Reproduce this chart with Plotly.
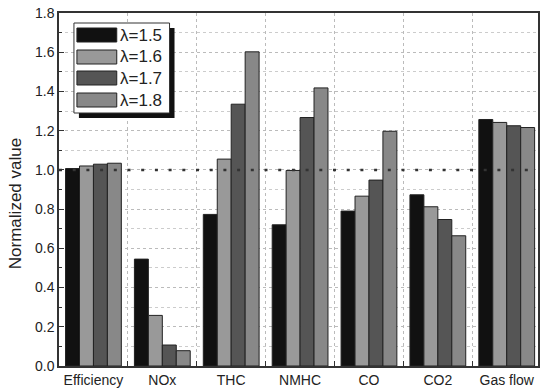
import plotly.graph_objects as go

categories = ["Efficiency", "NOx", "THC", "NMHC", "CO", "CO2", "Gas flow"]
series_names = ["λ=1.5", "λ=1.6", "λ=1.7", "λ=1.8"]
lam15 = [1.007, 0.545, 0.773, 0.720, 0.790, 0.873, 1.257]
lam16 = [1.020, 0.258, 1.055, 0.997, 0.866, 0.812, 1.242]
lam17 = [1.029, 0.107, 1.335, 1.267, 0.948, 0.747, 1.225]
lam18 = [1.034, 0.078, 1.602, 1.418, 1.197, 0.664, 1.216]
series_values = [lam15, lam16, lam17, lam18]
colors = ["#111111", "#999999", "#555555", "#888888"]
y_ticks = [0.0, 0.2, 0.4, 0.6, 0.8, 1.0, 1.2, 1.4, 1.6, 1.8]

W, H = 540, 392
ML, MR, MT, MB = 59, 0, 13, 26
PW, PH = W - ML - MR, H - MT - MB

def px(x):
    return (x - ML) / PW

def py(y):
    return 1 - (y - MT) / PH

fig = go.Figure()
for name, vals, col in zip(series_names, series_values, colors):
    fig.add_trace(go.Bar(x=categories, y=vals, name=name, marker_color=col,
                         marker_line=dict(color="#222222", width=1), showlegend=False))

font = "Liberation Sans, Arial, sans-serif"
fig.update_layout(
    width=W, height=H, margin=dict(l=ML, r=MR, t=MT, b=MB),
    paper_bgcolor="white", plot_bgcolor="white",
    barmode="group", bargap=0.19, bargroupgap=0,
    font=dict(family=font, size=14, color="#222222"),
    xaxis=dict(range=[-0.5, 6.454], tickson="boundaries", ticks="inside", ticklen=5,
               tickcolor="#333", showgrid=True, gridcolor="#bbbbbb", griddash="dot",
               gridwidth=1, showline=True, linecolor="#333", linewidth=1.5, mirror=True,
               tickfont=dict(size=14)),
    yaxis=dict(range=[0, 1.8], tickvals=y_ticks, ticktext=[f"{v:.1f}" for v in y_ticks],
               ticks="inside", ticklen=5, tickcolor="#333", showgrid=True,
               gridcolor="#bbbbbb", griddash="dot", gridwidth=1,
               showline=True, linecolor="#333", linewidth=1.5, mirror=True,
               zeroline=False, tickfont=dict(size=14),
               minor=dict(dtick=0.1, ticks="inside", ticklen=3, tickcolor="#333",
                          showgrid=True, gridcolor="#cccccc", griddash="dot")),
)

# y-axis title
fig.add_annotation(xref="paper", yref="paper", x=px(15), y=py(204),
                   text="Normalized value", textangle=-90, showarrow=False,
                   xanchor="center", yanchor="middle",
                   font=dict(size=17, color="#222222"))

# reference line at 1.0
fig.add_shape(type="line", xref="paper", yref="y", x0=0, x1=1, y0=1.0, y1=1.0,
              line=dict(color="#333333", width=2.5, dash="3px,10.7px"), layer="above")

# legend (manual) with shadow
fig.add_shape(type="rect", xref="paper", yref="paper", x0=px(79), x1=px(175),
              y0=py(118), y1=py(28), fillcolor="#111111", line=dict(width=0))
fig.add_shape(type="rect", xref="paper", yref="paper", x0=px(74), x1=px(170),
              y0=py(113), y1=py(23), fillcolor="white",
              line=dict(color="#333333", width=1))
rows = [28, 50, 71, 93]
for name, col, ry in zip(series_names, colors, rows):
    fig.add_shape(type="rect", xref="paper", yref="paper", x0=px(77), x1=px(117),
                  y0=py(ry + 14), y1=py(ry), fillcolor=col,
                  line=dict(color="#222222", width=1))
    fig.add_annotation(xref="paper", yref="paper", x=px(118), y=py(ry + 7),
                       text=name, showarrow=False, xanchor="left", yanchor="middle",
                       font=dict(size=17, color="#222222"))

fig.write_html("out.html")
